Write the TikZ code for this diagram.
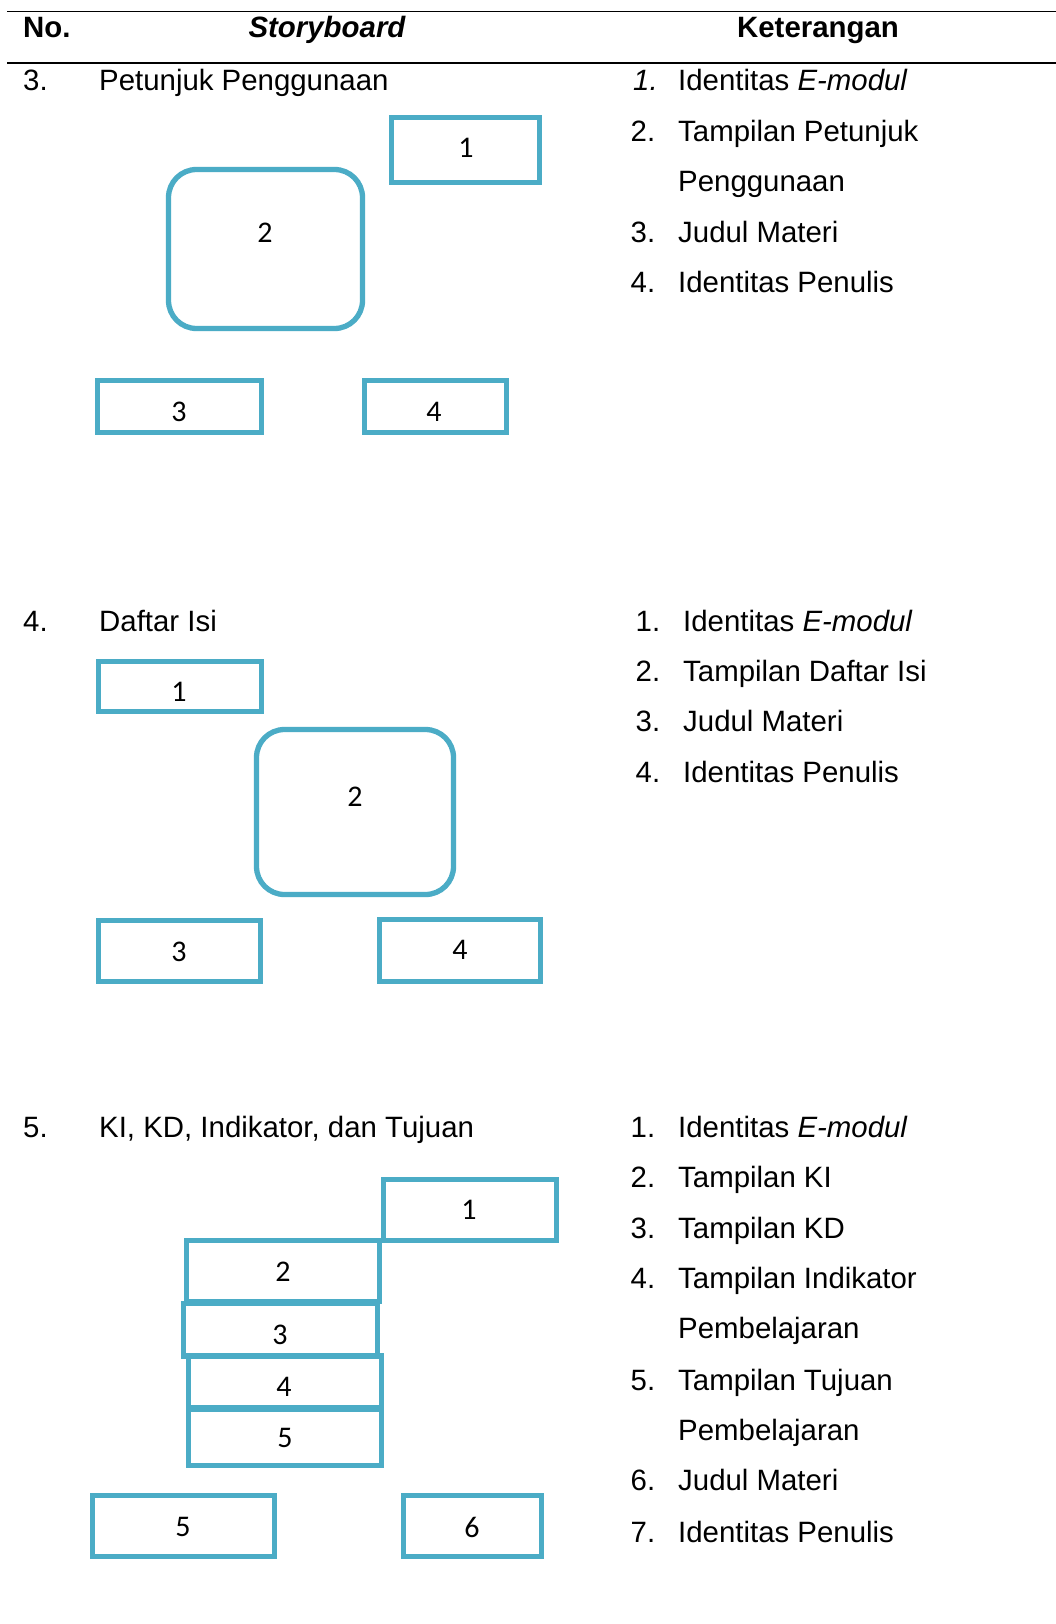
\documentclass[tikz,border=0pt]{standalone}
\usepackage{fontspec}
\setmainfont{Liberation Sans}
\newfontfamily\boxfont{Carlito}
\definecolor{boxblue}{HTML}{4BACC6}
\begin{document}
\begin{tikzpicture}[x=1pt,y=-1pt,
  txt/.style={anchor=base west, inner sep=0pt, font=\fontsize{29.4}{34}\selectfont},
  head/.style={anchor=base, inner sep=0pt, font=\fontsize{29.4}{34}\selectfont\bfseries},
  frame/.style={draw=boxblue, line width=5.3pt, inner sep=0pt},
  rframe/.style={frame, rounded corners=28pt},
  num/.style={inner sep=0pt, font=\boxfont\fontsize{30}{34}\selectfont},
  tablerule/.style={line width=1.8pt}]

% page
\fill[white] (0,0) rectangle (1056,1624);
\useasboundingbox (0,0) rectangle (1056,1624);

% table rules
\coordinate (topL) at (7,11.5);
\coordinate (topR) at (1056,11.5);
\coordinate (midL) at (7,63);
\coordinate (midR) at (1056,63);
\draw[tablerule] (topL) -- (topR);
\draw[tablerule] (midL) -- (midR);

% header
\node[head, anchor=base west] (hNo) at (23,38) {No.};
\node[head, font=\fontsize{29.4}{34}\selectfont\bfseries\itshape] (hSb) at (327,38) {Storyboard};
\node[head] (hKet) at (818,38) {Keterangan};

% ---------------- 3. Petunjuk Penggunaan ----------------
\node[txt] (n3) at (23,91) {3.};
\node[txt] (t3) at (99,91) {Petunjuk Penggunaan};

\node[frame, minimum width=148, minimum height=65] (s3b1) at (465.5,150) {};
\node[rframe, minimum width=194, minimum height=159] (s3b2) at (265.5,249) {};
\node[frame, minimum width=164, minimum height=52] (s3b3) at (179.5,406.5) {};
\node[frame, minimum width=142, minimum height=52] (s3b4) at (435.5,406.5) {};
\node[num] (s3l1) at (466,148) {1};
\node[num] (s3l2) at (265,233) {2};
\node[num] (s3l3) at (179,412) {3};
\node[num] (s3l4) at (434,412) {4};

\node[txt] (k3n1) at (633,91) {\itshape 1.};
\node[txt] (k3t1) at (678,91) {Identitas \textit{E-modul}};
\node[txt] (k3n2) at (630.5,141.5) {2.};
\node[txt] (k3t2) at (678,141.5) {Tampilan Petunjuk};
\node[txt] (k3t2b) at (678,192) {Penggunaan};
\node[txt] (k3n3) at (630.5,242) {3.};
\node[txt] (k3t3) at (678,242) {Judul Materi};
\node[txt] (k3n4) at (630.5,292.5) {4.};
\node[txt] (k3t4) at (678,292.5) {Identitas Penulis};

% ---------------- 4. Daftar Isi ----------------
\node[txt] (n4) at (23,631) {4.};
\node[txt] (t4) at (99,631) {Daftar Isi};

\node[frame, minimum width=163, minimum height=50] (s4b1) at (180,686.5) {};
\node[rframe, minimum width=197, minimum height=165] (s4b2) at (355,812) {};
\node[frame, minimum width=162, minimum height=61] (s4b3) at (179.5,951) {};
\node[frame, minimum width=161, minimum height=62] (s4b4) at (460,950.5) {};
\node[num] (s4l1) at (179,692) {1};
\node[num] (s4l2) at (355,797) {2};
\node[num] (s4l3) at (179,952) {3};
\node[num] (s4l4) at (460,950) {4};

\node[txt] (k4n1) at (635.5,631) {1.};
\node[txt] (k4t1) at (683,631) {Identitas \textit{E-modul}};
\node[txt] (k4n2) at (635.5,681) {2.};
\node[txt] (k4t2) at (683,681) {Tampilan Daftar Isi};
\node[txt] (k4n3) at (635.5,731.5) {3.};
\node[txt] (k4t3) at (683,731.5) {Judul Materi};
\node[txt] (k4n4) at (635.5,782) {4.};
\node[txt] (k4t4) at (683,782) {Identitas Penulis};

% ---------------- 5. KI, KD, Indikator, dan Tujuan ----------------
\node[txt] (n5) at (23,1137.5) {5.};
\node[txt] (t5) at (99,1137.5) {KI, KD, Indikator, dan Tujuan};

\node[frame, minimum width=173, minimum height=61] (s5b1) at (470,1210) {};
\node[frame, minimum width=193, minimum height=61] (s5b2) at (283,1271) {};
\node[frame, minimum width=194, minimum height=53] (s5b3) at (280.5,1330) {};
\node[frame, minimum width=193, minimum height=54] (s5b4) at (285,1382.5) {};
\node[frame, minimum width=193, minimum height=58] (s5b5) at (285,1436.5) {};
\node[frame, minimum width=182, minimum height=61] (s5b5b) at (183.5,1526) {};
\node[frame, minimum width=138, minimum height=61] (s5b6) at (472.5,1526) {};
\node[num] (s5l1) at (469,1210) {1};
\node[num] (s5l2) at (283,1272) {2};
\node[num] (s5l3) at (280,1335) {3};
\node[num] (s5l4) at (284,1387) {4};
\node[num] (s5l5) at (285,1438) {5};
\node[num] (s5l5b) at (183,1527) {5};
\node[num] (s5l6) at (472,1527) {6};

\node[txt] (k5n1) at (630.5,1137.5) {1.};
\node[txt] (k5t1) at (678,1137.5) {Identitas \textit{E-modul}};
\node[txt] (k5n2) at (630.5,1187) {2.};
\node[txt] (k5t2) at (678,1187) {Tampilan KI};
\node[txt] (k5n3) at (630.5,1238) {3.};
\node[txt] (k5t3) at (678,1238) {Tampilan KD};
\node[txt] (k5n4) at (630.5,1288.5) {4.};
\node[txt] (k5t4) at (678,1288.5) {Tampilan Indikator};
\node[txt] (k5t4b) at (678,1338) {Pembelajaran};
\node[txt] (k5n5) at (630.5,1390) {5.};
\node[txt] (k5t5) at (678,1390) {Tampilan Tujuan};
\node[txt] (k5t5b) at (678,1440) {Pembelajaran};
\node[txt] (k5n6) at (630.5,1490.5) {6.};
\node[txt] (k5t6) at (678,1490.5) {Judul Materi};
\node[txt] (k5n7) at (630.5,1542) {7.};
\node[txt] (k5t7) at (678,1542) {Identitas Penulis};
\end{tikzpicture}
\end{document}
